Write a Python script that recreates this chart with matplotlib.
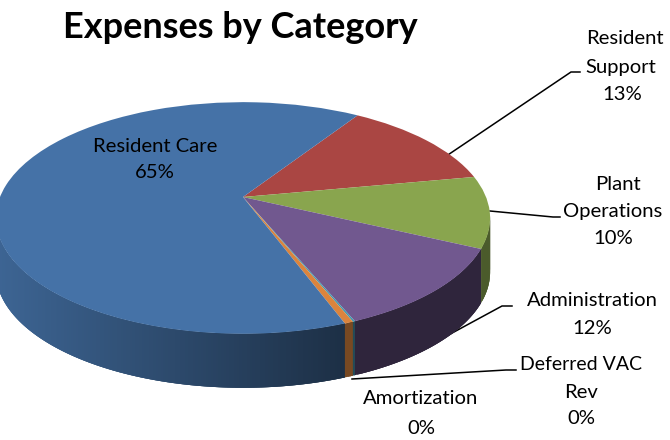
import numpy as np
import matplotlib
matplotlib.use("Agg")
import matplotlib.pyplot as plt
from matplotlib.collections import PolyCollection
from matplotlib.transforms import Transform
from matplotlib.colors import to_rgb

plt.rcParams['font.family'] = ['Lato', 'DejaVu Sans']

# data (clockwise from the Resident Support wedge)
categories = ['Resident Support', 'Plant Operations', 'Administration',
              'Deferred VAC Rev', 'Amortization', 'Resident Care']
values = [12.9, 10.0, 11.7, 0.12, 0.48, 64.8]
colors = ['#AA4643', '#89A54E', '#71588F', '#4198AF', '#DB843D', '#4572A7']
wall_factor = [0.45, 0.55, 0.42, 0.5, 0.55, 1.0]

W, H = 670, 440
APEX_X, APEX_Y = 243, 197
P, A, C, DEPTH = 0.181, 112.0, 243.0, 54.0
START = 57.1


class Perspective(Transform):
    input_dims = 2
    output_dims = 2

    def transform_non_affine(self, pts):
        pts = np.asarray(pts, float)
        w = 1 + P * pts[:, 1]
        return np.column_stack([APEX_X + C * pts[:, 0] / w,
                                APEX_Y - A * pts[:, 1] / w])


persp = Perspective()

fig = plt.figure(figsize=(W / 100, H / 100), dpi=100)
ax = fig.add_axes([0, 0, 1, 1])

wedges, _ = ax.pie(values, colors=colors, startangle=START, counterclock=False,
                   wedgeprops=dict(linewidth=0, edgecolor='none'))
ax.set_aspect('auto')
ax.set_xlim(0, W)
ax.set_ylim(H, 0)
ax.axis('off')

# side wall of the disc, from the same wedge angles; pieces overlap so no seams show
z = 0.5
for wd, col, f in zip(wedges[::-1], colors[::-1], wall_factor[::-1]):
    n = max(2, int((wd.theta2 - wd.theta1) * 2))
    th = np.radians(np.linspace(wd.theta1, wd.theta2, n + 1))
    uv = np.column_stack([np.cos(th), np.sin(th)])
    xy = persp.transform_non_affine(uv)
    rgb = np.array(to_rgb(col))
    polys, fcs = [], []
    for i in range(n):
        if min(uv[i, 1], uv[i + 1, 1]) > -P + 0.01:
            continue
        j = min(i + 3, n)
        seg = xy[i:j + 1]
        polys.append(np.vstack([seg, (seg + [0, DEPTH])[::-1]]))
        if f == 1.0:  # blue wall darkens towards the front
            t = np.clip(xy[i, 0] / 340, 0, 1)
            k = 0.88 - 0.46 * t
        else:
            k = f
        fcs.append(rgb * k)
    if polys:
        ax.add_collection(PolyCollection(polys, facecolors=fcs, edgecolors='none',
                                         linewidths=0, zorder=z))
        z += 0.01

for wd in wedges:
    wd.set_transform(persp + ax.transData)
    wd.set_zorder(1)

# leader lines
leaders = [
    ([430, 571, 580], [167, 72, 72]),
    ([490, 553, 560], [211, 217, 217]),
    ([430, 502, 512], [345, 306, 306]),
    ([352, 506, 516], [379, 370, 370]),
]
for lx, ly in leaders:
    ax.plot(lx, ly, color='black', lw=1.1, zorder=0.4, solid_joinstyle='miter')

# labels
labels = [
    ('Resident Care', 155, 147), ('65%', 155, 173),
    ('Resident', 625, 39), ('Support', 621, 67), ('13%', 622, 94),
    ('Plant', 618, 184), ('Operations', 613, 212), ('10%', 613, 238),
    ('Administration', 592, 301), ('12%', 592, 328),
    ('Deferred VAC', 581, 364), ('Rev', 581, 392), ('0%', 581, 418),
    ('Amortization', 421, 399), ('0%', 421, 428),
]
for t, x, y in labels:
    ax.text(x, y, t, ha='center', va='center', fontsize=14.6 if t != 'Deferred VAC' else 14,
            color='black', zorder=3)

ax.text(240, 28, 'Expenses by Category', ha='center', va='center',
        fontsize=26, fontweight='bold', color='black', zorder=3)

fig.savefig('out.png', dpi=100)
